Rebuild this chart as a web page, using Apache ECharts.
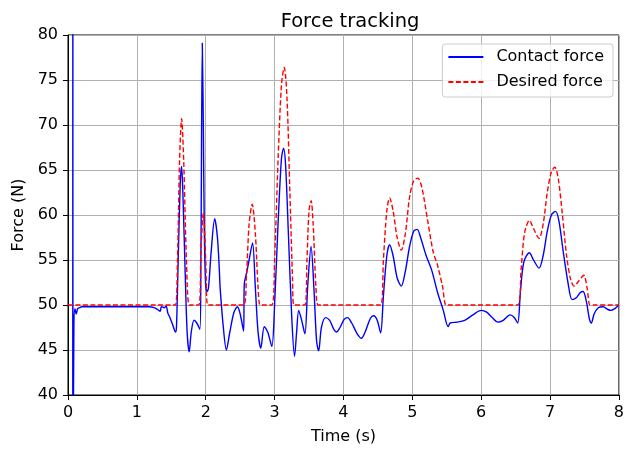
<!DOCTYPE html>
<html>
<head>
<meta charset="utf-8">
<script src="https://cdn.jsdelivr.net/npm/echarts@6/dist/echarts.min.js"></script>
<style>
html,body{margin:0;padding:0;background:#fff;}
#chart{width:627px;height:453px;}
</style>
</head>
<body>
<div id="chart"></div>
<script>
const contactTime = [0.0695,0.0705,0.072,0.085,0.10,0.12,0.14,0.17,0.20,0.5,1.0,1.18,1.25,1.30,1.34,1.355,1.40,1.425,1.45,1.48,1.52,1.56,1.575,1.60,1.63,1.65,1.67,1.70,1.73,1.76,1.79,1.83,1.87,1.915,1.93,1.95,1.965,1.98,2.0,2.02,2.04,2.08,2.13,2.17,2.20,2.205,2.21,2.25,2.30,2.35,2.41,2.46,2.50,2.55,2.56,2.60,2.63,2.68,2.72,2.76,2.80,2.85,2.90,2.96,3.00,3.05,3.10,3.13,3.16,3.20,3.25,3.29,3.32,3.35,3.39,3.44,3.48,3.53,3.57,3.61,3.64,3.68,3.74,3.80,3.86,3.90,3.95,4.01,4.06,4.12,4.20,4.26,4.32,4.39,4.44,4.49,4.54,4.58,4.63,4.67,4.72,4.78,4.84,4.90,4.96,5.02,5.07,5.12,5.20,5.28,5.37,5.45,5.52,5.55,5.65,5.76,5.88,6.00,6.08,6.16,6.24,6.32,6.42,6.48,6.53,6.57,6.62,6.70,6.76,6.84,6.90,6.96,7.02,7.08,7.13,7.19,7.26,7.32,7.38,7.44,7.48,7.53,7.57,7.60,7.64,7.70,7.77,7.84,7.88,7.94,8.0];
const contactForce = [30,110,25,47,49.6,49.0,49.6,49.7,49.8,49.8,49.8,49.8,49.7,49.5,49.3,49.8,49.7,49.9,49.1,48.6,47.8,47.0,47.5,55,63.5,65.4,62,54,47,44.8,47,48.3,48.0,47.3,55,79.1,70,58,52,51.5,51.9,56,59.6,57.5,53.5,52.5,51.8,48,45.0,47,49.2,49.8,49.0,47.1,52.3,53.8,55,56.9,52,47,45.2,47.6,47.0,45.4,50,59,66.3,67.4,65.5,58,48.5,44.3,47,49.4,48.4,46.8,52,56.5,52,46,44.9,47.5,48.6,48.3,47.3,47.0,47.5,48.4,48.6,48.0,46.8,46.3,47.1,48.5,48.8,48.3,46.9,51,55.5,56.7,55.5,53,52.1,53.8,56.5,58.2,58.4,57.5,55.5,53.9,51.3,49.4,47.6,48.0,48.1,48.3,48.9,49.4,49.2,48.6,48.1,48.3,48.9,48.6,48.0,51.5,54.8,55.8,55,54.1,55.5,58.2,60.0,60.4,59.3,56,52.5,50.6,50.8,51.4,51.5,50.3,48.5,48.0,49,49.7,49.8,49.5,49.4,49.6,50.0];
const desiredTime = [0,1.50,1.56,1.59,1.62,1.65,1.68,1.72,1.76,1.82,1.90,1.93,1.965,2.0,2.03,2.10,2.55,2.59,2.63,2.675,2.72,2.76,2.79,2.85,2.96,3.0,3.05,3.10,3.14,3.18,3.22,3.26,3.28,3.34,3.44,3.47,3.50,3.53,3.56,3.60,3.63,3.70,4.54,4.58,4.63,4.67,4.72,4.78,4.84,4.90,4.96,5.02,5.08,5.14,5.22,5.30,5.37,5.44,5.49,5.56,6.53,6.58,6.63,6.70,6.76,6.84,6.90,6.96,7.02,7.07,7.12,7.18,7.24,7.30,7.35,7.42,7.49,7.54,7.58,7.64,8.0];
const desiredForce = [50,50,50,55,66,70.7,66,55,50,50,50,56,60.2,55,50,50,50,53,59,61.2,58,52,50,50,50,55,66,74.5,76.4,73,63,53,50,50,50,55,60.5,61.6,59,52,50,50,50,55,60.5,61.9,60.5,57.5,56.1,58,62,63.8,64.1,63,59.5,56,54.3,52,50,50,50,54,58,59.4,58.5,57.4,59,62.5,64.8,65.3,64,60,55.5,52.8,52.1,52.7,53.3,51.8,50,50,50];

const zip = (xs, ys) => xs.map((x, i) => [x, ys[i]]);
const FONT = 'DejaVu Sans';

const chart = echarts.init(document.getElementById('chart'), null, {renderer: 'canvas'});
chart.setOption({
  animation: false,
  backgroundColor: '#ffffff',
  textStyle: {fontFamily: FONT},
  title: {
    text: 'Force tracking',
    left: 345, top: 7, textAlign: 'center',
    textStyle: {fontFamily: FONT, fontSize: 19.5, fontWeight: 'normal', color: '#000'}
  },
  legend: {
    orient: 'vertical',
    right: 14, top: 44,
    itemWidth: 35, itemHeight: 14, itemGap: 9,
    padding: [5, 9, 7, 5],
    borderColor: '#cccccc', borderWidth: 1, borderRadius: 3,
    backgroundColor: 'rgba(255,255,255,0.8)',
    itemStyle: {opacity: 0},
    textStyle: {fontFamily: FONT, fontSize: 16, color: '#000', padding: [0, 0, 0, 8]},
    data: ['Contact force', 'Desired force']
  },
  grid: {
    left: 68, right: 5, top: 35, bottom: 58,
    show: true, borderColor: '#000', borderWidth: 1, backgroundColor: 'transparent'
  },
  xAxis: {
    type: 'value', min: 0, max: 8, interval: 1,
    name: 'Time (s)', nameLocation: 'middle', nameGap: 34,
    nameTextStyle: {fontFamily: FONT, fontSize: 16, color: '#000'},
    axisLine: {show: true, onZero: false, lineStyle: {color: '#000', width: 1}},
    axisTick: {show: true, inside: false, length: 5, lineStyle: {color: '#000'}},
    axisLabel: {margin: 10, fontFamily: FONT, fontSize: 16, color: '#000'},
    splitLine: {show: true, lineStyle: {color: '#b0b0b0', width: 1}}
  },
  yAxis: {
    type: 'value', min: 40, max: 80, interval: 5,
    name: 'Force (N)', nameLocation: 'middle', nameGap: 40,
    nameTextStyle: {fontFamily: FONT, fontSize: 16, color: '#000'},
    axisLine: {show: true, onZero: false, lineStyle: {color: '#000', width: 1}},
    axisTick: {show: true, inside: false, length: 5, lineStyle: {color: '#000'}},
    axisLabel: {margin: 10, fontFamily: FONT, fontSize: 16, color: '#000'},
    splitLine: {show: true, lineStyle: {color: '#b0b0b0', width: 1}}
  },
  series: [
    {
      name: 'Contact force', type: 'line', data: zip(contactTime, contactForce),
      symbol: 'none', smooth: 0.3, clip: true,
      lineStyle: {color: '#0000ff', width: 1.4},
      itemStyle: {color: '#0000ff'}
    },
    {
      name: 'Desired force', type: 'line', data: zip(desiredTime, desiredForce),
      symbol: 'none', smooth: 0.3, clip: true,
      lineStyle: {color: '#ff0000', width: 1.4, type: [5, 2.5]},
      itemStyle: {color: '#ff0000'}
    }
  ]
});
</script>
</body>
</html>
